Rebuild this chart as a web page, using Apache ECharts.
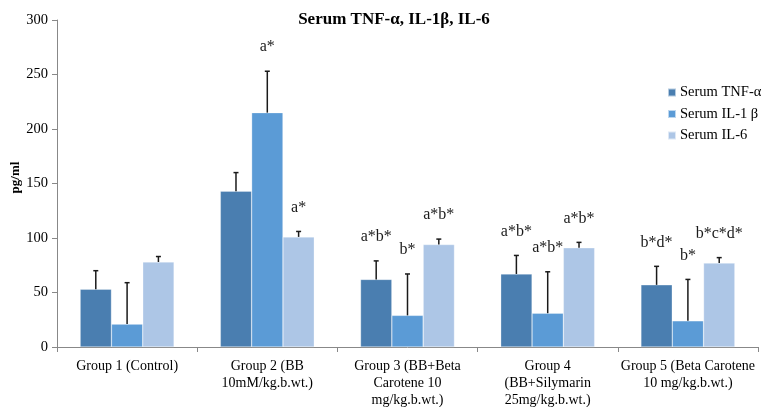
<!DOCTYPE html>
<html>
<head>
<meta charset="utf-8">
<script src="https://cdn.jsdelivr.net/npm/echarts@6/dist/echarts.min.js"></script>
<style>html,body{margin:0;padding:0;background:#fff;}#chart{width:767px;height:407px;}</style>
</head>
<body>
<div id="chart"></div>
<script>
const categories = [
  'Group 1 (Control)',
  'Group 2 (BB\n10mM/kg.b.wt.)',
  'Group 3 (BB+Beta\nCarotene 10\nmg/kg.b.wt.)',
  'Group 4\n(BB+Silymarin\n25mg/kg.b.wt.)',
  'Group 5 (Beta Carotene\n10 mg/kg.b.wt.)'
];
const seriesNames = ['Serum TNF-\u03B1', 'Serum IL-1 \u03B2', 'Serum IL-6'];
const tnf = [53, 143, 62, 67, 57];
const il1 = [21, 215, 29, 31, 24];
const il6 = [78, 101, 94, 91, 77];
const tnfErr = [17, 17, 17, 17, 17];
const il1Err = [38, 38, 38, 38, 38];
const il6Err = [5, 5, 5, 5, 5];
const tnfSig = ['', '', 'a*b*', 'a*b*', 'b*d*'];
const il1Sig = ['', 'a*', 'b*', 'a*b*', 'b*'];
const il6Sig = ['', 'a*', 'a*b*', 'a*b*', 'b*c*d*'];
const yTicks = [0, 50, 100, 150, 200, 250, 300];

const colors = ['#4a7eb0', '#5b9bd6', '#adc6e6'];
const values = [tnf, il1, il6];
const errs = [tnfErr, il1Err, il6Err];
const sigs = [tnfSig, il1Sig, il6Sig];
const GAP = 0.33;
const FONT = '"Liberation Serif", "Times New Roman", serif';

const chart = echarts.init(document.getElementById('chart'));

const barSeries = values.map((v, i) => ({
  name: seriesNames[i],
  type: 'bar',
  data: v,
  barGap: '0%',
  barCategoryGap: '33%',
  itemStyle: { color: colors[i], borderColor: 'rgba(255,255,255,0.6)', borderWidth: 0.5 },
  emphasis: { disabled: true },
  animation: false,
  z: 2
}));

const errSeries = values.map((v, i) => ({
  type: 'custom',
  data: v.map((val, k) => [k, val, errs[i][k]]),
  animation: false,
  silent: true,
  z: 5,
  renderItem: function (params, api) {
    const k = api.value(0);
    const val = api.value(1);
    const e = api.value(2);
    const sig = sigs[i][k];
    const band = api.size([1, 0])[0];
    const bw = band * (1 - GAP) / 3;
    const cx = api.coord([k, 0])[0] + (i - 1) * bw;
    const yBase = api.coord([k, val])[1];
    const yTop = api.coord([k, val + e])[1];
    const children = [
      { type: 'line', shape: { x1: cx, y1: yBase, x2: cx, y2: yTop }, style: { stroke: '#1a1a1a', lineWidth: 1.5 } },
      { type: 'line', shape: { x1: cx - 2.5, y1: yTop, x2: cx + 2.5, y2: yTop }, style: { stroke: '#1a1a1a', lineWidth: 1.5 } }
    ];
    if (sig) {
      children.push({
        type: 'text',
        x: cx, y: yTop - 24,
        style: { text: sig, fill: '#1a1a1a', font: '16px ' + FONT, align: 'center', verticalAlign: 'middle' }
      });
    }
    return { type: 'group', children: children };
  }
}));

chart.setOption({
  animation: false,
  title: {
    text: 'Serum TNF-\u03B1, IL-1\u03B2, IL-6',
    left: 389, top: 6, textAlign: 'center',
    textStyle: { fontFamily: FONT, fontWeight: 'bold', fontSize: 17, color: '#000' }
  },
  legend: {
    orient: 'vertical',
    left: 662, top: 80,
    itemWidth: 8, itemHeight: 8, itemGap: 6.5,
    icon: 'rect',
    data: seriesNames,
    textStyle: { fontFamily: FONT, fontSize: 14.5, color: '#000', padding: [0, 0, 0, -1] }
  },
  grid: { left: 57, right: 9, top: 20, bottom: 60, containLabel: false, outerBoundsMode: 'none' },
  xAxis: {
    type: 'category',
    data: categories,
    axisLine: { lineStyle: { color: '#888', width: 1 } },
    axisTick: { show: true, length: 5, lineStyle: { color: '#888' } },
    axisLabel: { interval: 0, margin: 11, fontFamily: FONT, fontSize: 14, color: '#000', lineHeight: 17 },
    splitLine: { show: false }
  },
  yAxis: {
    type: 'value',
    min: yTicks[0], max: yTicks[yTicks.length - 1], interval: 50,
    name: 'pg/ml',
    nameLocation: 'middle',
    nameGap: 35,
    nameRotate: 90,
    nameMoveOverlap: false,
    nameTextStyle: { fontFamily: FONT, fontWeight: 'bold', fontSize: 13, color: '#000', padding: [0, 0, 0, 12] },
    axisLine: { show: true, lineStyle: { color: '#888', width: 1 } },
    axisTick: { show: true, length: 5, lineStyle: { color: '#888' } },
    axisLabel: { margin: 9, fontFamily: FONT, fontSize: 14.5, color: '#000' },
    splitLine: { show: false }
  },
  series: barSeries.concat(errSeries)
});
</script>
</body>
</html>
